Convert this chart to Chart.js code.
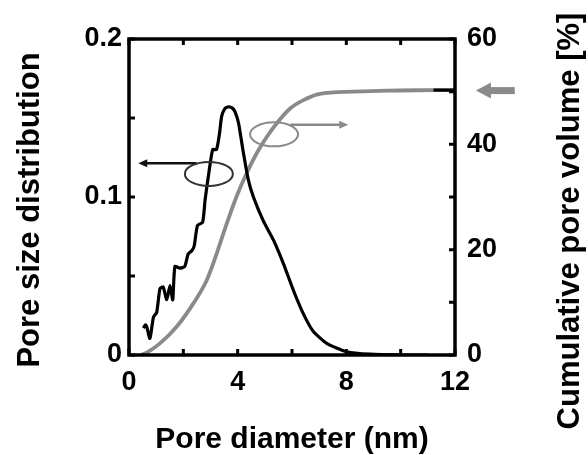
<!DOCTYPE html>
<html>
<head>
<meta charset="utf-8">
<script src="https://cdn.jsdelivr.net/npm/chart.js@4.4.1/dist/chart.umd.min.js"></script>
<style>
  html, body { margin: 0; padding: 0; background: #fff; }
</style>
</head>
<body>
<canvas id="chart" width="588" height="455"></canvas>
<script>
// pore size distribution, black trace (left axis)
const psdX = [0.53, 0.60, 0.65, 0.77, 0.90, 1.02, 1.14, 1.26, 1.39, 1.51, 1.61, 1.69, 1.87, 2.05, 2.18, 2.31,
  2.40, 2.52, 2.71, 2.80, 2.92, 3.08, 3.22, 3.33, 3.41, 3.53, 3.63, 3.72, 3.82, 3.90, 4.03, 4.21, 4.39,
  4.58, 4.94, 5.31, 5.68, 6.05, 6.42, 6.78, 7.28, 8.01, 8.87, 10.1, 11.0];
const psdY = [0.017, 0.019, 0.018, 0.0105, 0.024, 0.027, 0.042, 0.043, 0.035, 0.044, 0.035, 0.056, 0.055, 0.056, 0.064, 0.066,
  0.069, 0.082, 0.084, 0.098, 0.113, 0.130, 0.130, 0.140, 0.151, 0.156, 0.157, 0.157, 0.156, 0.154, 0.147, 0.128, 0.111,
  0.100, 0.085, 0.073, 0.058, 0.041, 0.026, 0.015, 0.0074, 0.0021, 0.0005, 0, 0];

// cumulative pore volume [%], grey trace (right axis)
const cumX = [0.45, 0.7, 1.14, 1.76, 2.37, 2.86, 3.23, 3.60, 3.96, 4.33, 4.70, 5.07, 5.44, 5.93, 6.42, 7.03, 8.26, 9.5, 11.2];
const cumY = [0, 0.6, 2.2, 5.4, 9.8, 14.2, 19.3, 25.0, 30.1, 34.5, 38.3, 41.4, 44.0, 46.8, 48.4, 49.6, 50.0, 50.2, 50.3];

// short black piece at the end of the plateau
const endX = [11.2, 12];
const endY = [50.3, 50.3];

// labelled ticks
const xLabels = [0, 4, 8, 12];
const yLabels = [0, 0.1, 0.2];
const y2Labels = [0, 20, 40, 60];

// annotations, in data units
const psdArrow = { from: [2.49, 0.1213], to: [0.34, 0.1213] };
const psdRing = { at: [2.94, 0.1146] };
const cumRing = { at: [5.34, 41.9] };
const cumArrow = { from: [5.93, 43.7], to: [8.07, 43.7] };
const plateauArrow = { from: [14.2, 50.2], to: [12.77, 50.2] };

const FONT = "'Liberation Sans', Arial, Helvetica, sans-serif";
const GREY = "#8a8a8a";
const TICK = 6;

const pts = (xs, ys) => xs.map((x, i) => ({ x: x, y: ys[i] }));
const has = (list, v) => list.some(t => Math.abs(t - v) < 1e-6);

const tickFont = { family: FONT, size: 27, weight: "bold", lineHeight: 1.2 };
const noGrid = { display: false, drawTicks: false, tickLength: 0 };

function arrowHead(ctx, x, y, dir, len, half) {
  ctx.beginPath();
  ctx.moveTo(x, y);
  ctx.lineTo(x - dir * len, y - half);
  ctx.lineTo(x - dir * len, y + half);
  ctx.closePath();
  ctx.fill();
}

// boxed frame with inward ticks on all four sides, placed from the scales' ticks
const frame = {
  id: "frame",
  afterDatasetsDraw(chart) {
    const { ctx, chartArea: a, scales } = chart;
    ctx.save();
    ctx.strokeStyle = "#000";
    ctx.lineWidth = 3;
    ctx.beginPath();
    scales.x.ticks.forEach(t => {
      const px = scales.x.getPixelForValue(t.value);
      ctx.moveTo(px, a.bottom); ctx.lineTo(px, a.bottom - TICK);
      ctx.moveTo(px, a.top); ctx.lineTo(px, a.top + TICK);
    });
    scales.y.ticks.forEach(t => {
      const py = scales.y.getPixelForValue(t.value);
      ctx.moveTo(a.left, py); ctx.lineTo(a.left + TICK, py);
    });
    scales.y2.ticks.forEach(t => {
      const py = scales.y2.getPixelForValue(t.value);
      ctx.moveTo(a.right, py); ctx.lineTo(a.right - TICK, py);
    });
    ctx.stroke();
    ctx.lineWidth = 3.5;
    ctx.strokeRect(a.left, a.top, a.right - a.left, a.bottom - a.top);
    ctx.restore();
  }
};

const extras = {
  id: "extras",
  afterDraw(chart) {
    const { ctx, scales } = chart;
    const x = scales.x, y = scales.y, y2 = scales.y2;
    ctx.save();

    // left arrow + ring (distribution)
    let x1 = x.getPixelForValue(psdArrow.from[0]), x2 = x.getPixelForValue(psdArrow.to[0]);
    let py = y.getPixelForValue(psdArrow.from[1]);
    ctx.strokeStyle = "#111"; ctx.fillStyle = "#111"; ctx.lineWidth = 2.5;
    ctx.beginPath(); ctx.moveTo(x1, py); ctx.lineTo(x2 + 7, py); ctx.stroke();
    arrowHead(ctx, x2, py, -1, 9, 4);
    ctx.strokeStyle = "#333"; ctx.lineWidth = 2;
    ctx.beginPath();
    ctx.ellipse(x.getPixelForValue(psdRing.at[0]), y.getPixelForValue(psdRing.at[1]), 24, 12, 0, 0, Math.PI * 2);
    ctx.stroke();

    // right arrow + ring (cumulative)
    ctx.strokeStyle = GREY; ctx.fillStyle = GREY;
    ctx.beginPath();
    ctx.ellipse(x.getPixelForValue(cumRing.at[0]), y2.getPixelForValue(cumRing.at[1]), 24, 12, 0, 0, Math.PI * 2);
    ctx.stroke();
    x1 = x.getPixelForValue(cumArrow.from[0]); x2 = x.getPixelForValue(cumArrow.to[0]);
    py = y2.getPixelForValue(cumArrow.from[1]);
    ctx.lineWidth = 2.5;
    ctx.beginPath(); ctx.moveTo(x1, py); ctx.lineTo(x2 - 7, py); ctx.stroke();
    arrowHead(ctx, x2, py, 1, 9, 4);

    // big arrow pointing at the plateau, outside the frame
    x1 = x.getPixelForValue(plateauArrow.from[0]); x2 = x.getPixelForValue(plateauArrow.to[0]);
    py = y2.getPixelForValue(plateauArrow.from[1]);
    ctx.fillRect(x2 + 14, py - 3.5, x1 - x2 - 14, 7);
    arrowHead(ctx, x2, py, -1, 15, 8);

    // axis titles for the two y axes (both read bottom to top)
    ctx.fillStyle = "#000";
    ctx.font = "bold 31px " + FONT;
    ctx.textAlign = "center";
    ctx.textBaseline = "middle";
    ctx.translate(30, 210); ctx.rotate(-Math.PI / 2);
    ctx.fillText("Pore size distribution", 0, 0);
    ctx.setTransform(1, 0, 0, 1, 0, 0);
    ctx.translate(570, 221); ctx.rotate(-Math.PI / 2);
    ctx.fillText("Cumulative pore volume [%]", 0, 0);
    ctx.restore();
  }
};

new Chart(document.getElementById("chart"), {
  type: "line",
  data: {
    datasets: [
      { label: "Pore size distribution", data: pts(psdX, psdY), yAxisID: "y",
        borderColor: "#000", borderWidth: 3.2, pointRadius: 0, tension: 0.2 },
      { label: "Plateau end", data: pts(endX, endY), yAxisID: "y2",
        borderColor: "#000", borderWidth: 3.5, pointRadius: 0 },
      { label: "Cumulative pore volume", data: pts(cumX, cumY), yAxisID: "y2",
        borderColor: GREY, borderWidth: 3.8, pointRadius: 0, cubicInterpolationMode: "monotone" }
    ]
  },
  options: {
    responsive: false,
    devicePixelRatio: 1,
    animation: false,
    layout: { padding: { top: 39 } },
    plugins: { legend: { display: false }, tooltip: { enabled: false } },
    scales: {
      x: {
        type: "linear", position: "bottom", min: 0, max: 12,
        ticks: { stepSize: 2, autoSkip: false, maxRotation: 0, padding: 11, color: "#000", font: tickFont,
          callback: v => has(xLabels, v) ? String(v) : "" },
        grid: noGrid,
        border: { display: false },
        title: { display: true, text: "Pore diameter (nm)", color: "#000",
          font: { family: FONT, size: 30, weight: "bold", lineHeight: 1.2 }, padding: { top: 0, bottom: -3 } },
        afterFit: s => { s.height = 100; }
      },
      y: {
        type: "linear", position: "left", min: 0, max: 0.2,
        ticks: { stepSize: 0.05, autoSkip: false, padding: 7, color: "#000", font: tickFont,
          callback: v => has(yLabels, v) ? (Math.abs(v) < 1e-9 ? "0" : v.toFixed(1)) : "" },
        grid: noGrid,
        border: { display: false },
        afterFit: s => { s.width = 129; }
      },
      y2: {
        type: "linear", position: "right", min: 0, max: 60,
        ticks: { stepSize: 10, autoSkip: false, padding: 12, color: "#000", font: tickFont,
          callback: v => has(y2Labels, v) ? String(v) : "" },
        grid: noGrid,
        border: { display: false },
        afterFit: s => { s.width = 133; }
      }
    }
  },
  plugins: [frame, extras]
});
</script>
</body>
</html>
